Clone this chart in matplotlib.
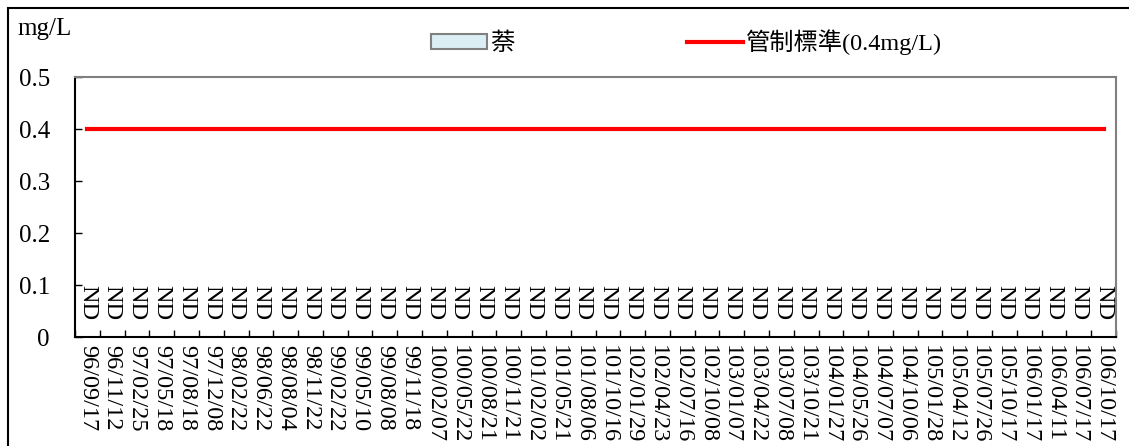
import numpy as np
import matplotlib
matplotlib.use("Agg")
import matplotlib.pyplot as plt
from matplotlib.patches import Patch, Rectangle
from matplotlib.lines import Line2D

dates = ["96/09/17", "96/11/12", "97/02/25", "97/05/18", "97/08/18", "97/12/08",
         "98/02/22", "98/06/22", "98/08/04", "98/11/22", "99/02/22", "99/05/10",
         "99/08/08", "99/11/18", "100/02/07", "100/05/22", "100/08/21", "100/11/21",
         "101/02/02", "101/05/21", "101/08/06", "101/10/16", "102/01/29", "102/04/23",
         "102/07/16", "102/10/08", "103/01/07", "103/04/22", "103/07/08", "103/10/21",
         "104/01/27", "104/05/26", "104/07/07", "104/10/06", "105/01/28", "105/04/12",
         "105/07/26", "105/10/17", "106/01/17", "106/04/11", "106/07/17", "106/10/17"]
naphthalene = [0.0] * len(dates)          # all ND
nd_labels = ["ND"] * len(dates)
standard = [0.4] * len(dates)
yticks = [0, 0.1, 0.2, 0.3, 0.4, 0.5]
ytick_labels = ["0", "0.1", "0.2", "0.3", "0.4", "0.5"]

serif = ["Liberation Serif", "Noto Sans CJK TC"]
plt.rcParams['font.family'] = serif

W, H = 1129, 446
fig = plt.figure(figsize=(W / 100, H / 100), dpi=100)
ax = fig.add_axes([75 / W, 1 - 337 / H, (1116 - 75) / W, (337 - 77) / H])

x = np.arange(len(dates))
ax.bar(x, naphthalene, width=0.6, color="#DAEEF3", edgecolor="#808080", linewidth=1)
ax.plot(x, standard, color="#FF0000", linewidth=3)

for xi, lab in zip(x, nd_labels):
    ax.text(xi, 0.1, lab, rotation=270, ha="center", va="top",
            fontsize=17.5, family=serif)

ax.set_xlim(-0.5, len(dates) - 0.5)
ax.set_ylim(0, 0.5)
ax.set_yticks(yticks)
ax.set_yticklabels(ytick_labels, fontsize=18)
ax.set_xticks(x)
ax.set_xticklabels(dates, rotation=270, fontsize=17.5, va="top", ha="center")
ax.set_xticks(np.arange(-0.5, len(dates), 1), minor=True)
ax.tick_params(axis="x", which="major", length=0, pad=6)
ax.tick_params(axis="x", which="minor", length=5, direction="in", width=1)
ax.tick_params(axis="y", which="major", length=5, direction="in", width=1, pad=18)

ax.spines["left"].set_color("black")
ax.spines["bottom"].set_color("black")
ax.spines["left"].set_linewidth(1.5)
ax.spines["bottom"].set_linewidth(1.5)
ax.spines["top"].set_color("#808080")
ax.spines["right"].set_color("#808080")
ax.spines["top"].set_linewidth(1.5)
ax.spines["right"].set_linewidth(1.5)

fig.text(17 / W, 1 - 29 / H, "mg/L", fontsize=18, ha="left", va="center")

handles = [Patch(facecolor="#DAEEF3", edgecolor="#808080", linewidth=1.5),
           Line2D([0], [0], color="#FF0000", linewidth=3)]
labels = ["萘", "管制標準(0.4mg/L)"]
fig.legend(handles, labels, loc="center left", bbox_to_anchor=(431 / W, 1 - 42 / H),
           ncol=2, frameon=False, fontsize=17.5, handlelength=2.3, handletextpad=0.12,
           columnspacing=7.1, handleheight=0.6, borderpad=0, borderaxespad=0)

fig.patches.append(Rectangle((8 / W, -0.1), 1.2, 1 - 7.5 / H + 0.1,
                             transform=fig.transFigure, fill=False,
                             edgecolor="black", linewidth=1.5))

fig.savefig("out.png", dpi=100)
